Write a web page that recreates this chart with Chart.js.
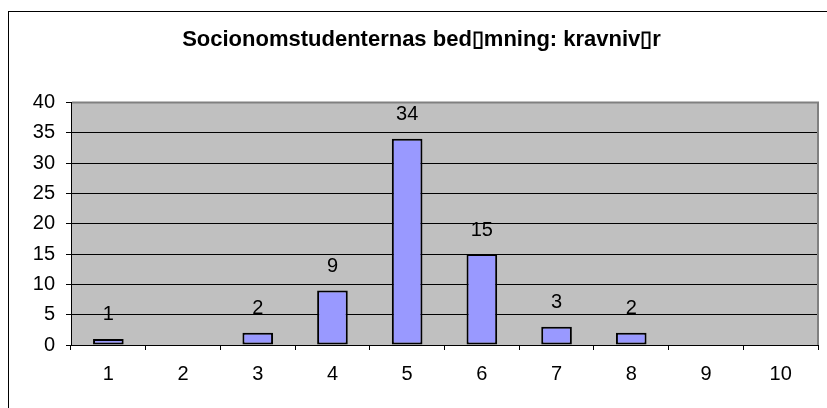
<!DOCTYPE html>
<html>
<head>
<meta charset="utf-8">
<script src="https://cdn.jsdelivr.net/npm/chart.js@4/dist/chart.umd.min.js"></script>
<style>
  body { margin: 0; background: #fff; }
  canvas { display: block; }
</style>
</head>
<body>
<canvas id="barChart" width="827" height="408"></canvas>
<script>
// categories on the x axis (the grade 1-10)
const grades = ["1", "2", "3", "4", "5", "6", "7", "8", "9", "10"];
// number of students per grade
const counts = [1, 0, 2, 9, 34, 15, 3, 2, 0, 0];

const chartTitle = "Socionomstudenternas bed\u25AFmning: kravniv\u25AFr";
const yMin = 0;
const yMax = 40;
const yStep = 5;

const fontFamily = "'Liberation Sans', Arial, sans-serif";

//draws the white frame and the grey plot area like the old excel chart
const frameplugin = {
	id: "frame",
	beforeDraw(chart){
		const ctx = chart.ctx;
		const a = chart.chartArea;
		ctx.save();
		ctx.fillStyle = "#fff";
		ctx.fillRect(0, 0, chart.width, chart.height);
		ctx.strokeStyle = "#000";
		ctx.lineWidth = 1;
		ctx.strokeRect(8.5, 11.5, chart.width + 20, chart.height + 20); //outer border runs off the picture
		ctx.fillStyle = "#c0c0c0";
		ctx.fillRect(a.left, a.top, a.right - a.left, a.bottom - a.top);
		ctx.restore();
	},
	afterDraw(chart){
		const ctx = chart.ctx;
		const a = chart.chartArea;
		ctx.save();
		ctx.strokeStyle = "#808080";
		ctx.lineWidth = 2;
		ctx.beginPath();
		ctx.moveTo(a.left + 1, a.top);
		ctx.lineTo(a.right, a.top);
		ctx.lineTo(a.right, a.bottom);
		ctx.stroke();
		ctx.restore();
	}
};//end frameplugin

//value labels above each bar (zeros are skipped)
const labelplugin = {
	id: "valueLabels",
	afterDatasetsDraw(chart){
		const ctx = chart.ctx;
		const meta = chart.getDatasetMeta(0);
		ctx.save();
		ctx.fillStyle = "#000";
		ctx.font = "20px " + fontFamily;
		ctx.textAlign = "center";
		ctx.textBaseline = "middle";
		meta.data.forEach(function(bar, i){
			if(counts[i] > 0)
				ctx.fillText(String(counts[i]), bar.x, bar.y - 24);
		});
		ctx.restore();
	}
};//end labelplugin

new Chart("barChart", {
	type: "bar",
	data: {
		labels: grades,
		datasets: [{
			data: counts,
			backgroundColor: "#9999ff",
			borderColor: "#000",
			borderWidth: 2,
			borderSkipped: false,
			barPercentage: 0.41,
			categoryPercentage: 1.0
		}]
	},
	options: {
		responsive: false,
		animation: false,
		layout: { padding: { left: 25, right: 9, top: 0, bottom: 0 } },
		plugins: {
			legend: { display: false },
			tooltip: { enabled: false },
			title: {
				display: true,
				text: chartTitle,
				color: "#000",
				font: { family: fontFamily, size: 22, weight: "bold" },
				padding: { top: 27, bottom: 49 }
			}
		},
		scales: {
			x: {
				grid: { offset: true, drawOnChartArea: false, drawTicks: true, tickLength: 5, color: "#000" },
				border: { display: true, color: "#000", width: 1 },
				ticks: { color: "#000", font: { family: fontFamily, size: 20 }, padding: 12, maxRotation: 0 },
				afterFit(scale){ scale.height = 63; }
			},
			y: {
				min: yMin,
				max: yMax,
				grid: { color: "#000", tickLength: 5, drawTicks: true },
				border: { display: true, color: "#000", width: 1 },
				ticks: { stepSize: yStep, color: "#000", font: { family: fontFamily, size: 20 }, padding: 11 },
				afterFit(scale){ scale.width = 46; }
			}
		}
	},
	plugins: [frameplugin, labelplugin]
});
</script>
</body>
</html>
